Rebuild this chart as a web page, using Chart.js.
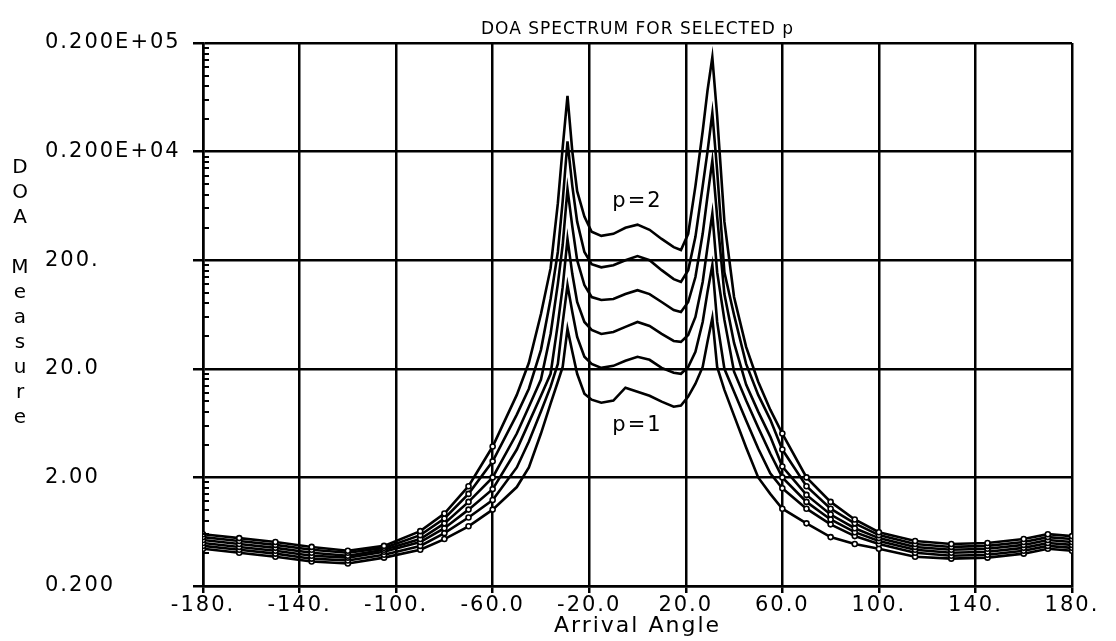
<!DOCTYPE html>
<html>
<head>
<meta charset="utf-8">
<title>DOA spectrum</title>
<script src="https://cdn.jsdelivr.net/npm/chart.js@4.4.0/dist/chart.umd.min.js"></script>
<style>
  html, body { margin: 0; padding: 0; background: #fff; }
  #wrap { width: 1116px; height: 641px; }
</style>
</head>
<body>
<div id="wrap"><canvas id="doaChart" width="1116" height="641"></canvas></div>
<script>
// arrival angles (deg), shared by all six curves
const angles = [-180,-165,-150,-135,-120,-105,-90,-80,-70,-60,-50,-45,-40,-36,-33,-31,-29,-27,-25,-22,-19,-15,-10,-5,0,5,10,15,18,21,24,27,29,31,33,36,40,45,50,55,60,70,80,90,100,115,130,145,160,170,180];

// DOA measure, top curve (p=2 label) down to bottom curve (p=1 label)
const curve6 = [0.600,0.552,0.508,0.458,0.422,0.468,0.640,0.93,1.66,3.85,11.5,22.7,64.0,169,667,2180,6530,2000,865,505,366,335,350,398,425,381,314,264,248,350,962,3080,7280,14800,4250,453,91.6,31.8,15.2,8.41,5.07,2.0,1.19,0.82,0.626,0.519,0.488,0.498,0.541,0.600,0.576];
const curve5 = [0.564,0.519,0.478,0.431,0.405,0.449,0.588,0.837,1.41,2.81,7.57,13.1,29.9,87.8,238,697,2480,962,453,238,184,172,180,200,218,200,162,134,126,162,328,962,2000,4530,1330,155,62.6,22.2,11.5,6.81,3.61,1.66,1.03,0.755,0.588,0.488,0.458,0.468,0.508,0.564,0.541];
const curve4 = [0.530,0.488,0.449,0.405,0.380,0.431,0.541,0.755,1.19,2.0,5.07,8.96,15.9,41.9,121,276,902,407,200,118,91.6,86.0,87.8,97.5,106,97.5,82.4,69.5,66.7,82.4,140,350,776,1650,505,97.5,34.6,14.3,8.07,4.75,2.52,1.38,0.91,0.681,0.552,0.458,0.431,0.440,0.478,0.530,0.508];
const curve3 = [0.498,0.458,0.422,0.380,0.365,0.413,0.508,0.681,1.01,1.56,3.61,6.39,11.3,18.0,51.8,113,314,149,82.4,54.0,45.6,41.9,43.7,48.6,54.0,49.6,41.9,36.1,35.4,41.0,60.0,126,264,538,155,56.4,18.8,10.2,5.75,3.32,2.0,1.19,0.82,0.626,0.519,0.431,0.405,0.413,0.449,0.498,0.478];
const curve2 = [0.468,0.431,0.397,0.357,0.343,0.388,0.468,0.613,0.855,1.24,2.47,4.28,8.07,13.7,22.2,52.9,118,66.7,39.3,25.8,22.2,20.4,21.3,23.7,25.8,24.2,20.4,18.4,18.0,20.8,28.7,54.0,102,180,54.0,20.0,12.3,6.67,3.69,2.18,1.59,1.03,0.739,0.576,0.488,0.405,0.380,0.388,0.422,0.468,0.449];
const curve1 = [0.440,0.405,0.372,0.336,0.322,0.365,0.431,0.541,0.709,1.01,1.63,2.47,5.07,9.55,15.2,20.8,46.6,28.7,18.0,11.8,10.4,9.75,10.2,13.4,12.3,11.3,9.96,8.96,9.16,11.1,14.6,20.8,35.4,58.8,20.8,12.8,7.41,3.77,2.0,1.41,1.03,0.755,0.564,0.488,0.440,0.372,0.357,0.365,0.397,0.440,0.422];

const xTicks = [-180,-140,-100,-60,-20,20,60,100,140,180];
const xTickLabels = ['-180.','-140.','-100.','-60.0','-20.0','20.0','60.0','100.','140.','180.'];
const yTicks = [0.2,2,20,200,2000,20000];
const yTickLabels = ['0.200','2.00','20.0','200.','0.200E+04','0.200E+05'];
const minorFactors = [2,3,4,5,6,7,8,9];

const titleText = 'DOA SPECTRUM FOR SELECTED p';
const yTitle = 'DOA Measure';
const curveLabels = [{ text: 'p=2', x: 0, y: 700 }, { text: 'p=1', x: 0, y: 6 }];

const FONT = 'DejaVu Sans';
const series = [curve6, curve5, curve4, curve3, curve2, curve1];

const decorations = {
  id: 'decorations',
  beforeDraw(chart) { chart.ctx.letterSpacing = '2px'; },
  afterDraw(chart) {
    const { ctx, chartArea, scales: { x, y } } = chart;
    ctx.save();
    // minor log ticks inside the left axis
    ctx.strokeStyle = '#000';
    ctx.lineWidth = 2;
    yTicks.slice(0, -1).forEach(base => {
      minorFactors.forEach(f => {
        const py = Math.round(y.getPixelForValue(base * f));
        ctx.beginPath();
        ctx.moveTo(chartArea.left, py);
        ctx.lineTo(chartArea.left + 6, py);
        ctx.stroke();
      });
    });
    ctx.fillStyle = '#000';
    ctx.textAlign = 'center';
    ctx.textBaseline = 'middle';
    ctx.letterSpacing = '1px';
    ctx.font = '17px "' + FONT + '"';
    ctx.fillText(titleText, (chartArea.left + chartArea.right) / 2, 30);
    // stacked y-axis title
    ctx.letterSpacing = '0px';
    ctx.font = '20px "' + FONT + '"';
    [...yTitle].forEach((ch, i) => ctx.fillText(ch, 20, 168 + i * 25));
    // curve labels
    ctx.letterSpacing = '2px';
    ctx.font = '21px "' + FONT + '"';
    curveLabels.forEach(l => ctx.fillText(l.text, x.getPixelForValue(l.x), y.getPixelForValue(l.y)));
    ctx.restore();
    ctx.letterSpacing = '0px';
  }
};

new Chart(document.getElementById('doaChart'), {
  type: 'line',
  data: {
    datasets: series.map((vals, k) => ({
      label: 'curve ' + (6 - k),
      data: angles.map((a, i) => ({ x: a, y: vals[i] })),
      borderColor: '#000',
      borderWidth: 2.6,
      pointRadius: c => Math.abs(angles[c.dataIndex]) >= 60 ? 2.5 : 0,
      pointBackgroundColor: '#fff',
      pointBorderColor: '#000',
      pointBorderWidth: 1.6,
      tension: 0,
      fill: false
    }))
  },
  options: {
    responsive: false,
    animation: false,
    devicePixelRatio: 1,
    events: [],
    layout: { padding: { left: 45, top: 43, right: 44, bottom: 0 } },
    plugins: { legend: { display: false }, tooltip: { enabled: false }, title: { display: false } },
    scales: {
      x: {
        type: 'linear',
        min: -180,
        max: 180,
        afterBuildTicks: s => { s.ticks = xTicks.map(v => ({ value: v })); },
        afterFit: s => { s.height = 55; },
        ticks: {
          autoSkip: false, maxRotation: 0, color: '#000', padding: 0,
          font: { family: FONT, size: 21 },
          callback: (v, i) => xTickLabels[i]
        },
        grid: { color: '#000', lineWidth: 2.5, tickLength: 7 },
        border: { color: '#000', width: 2.5 },
        title: {
          display: true, text: 'Arrival Angle', color: '#000',
          font: { family: FONT, size: 22 }, padding: { top: 0, bottom: 2 }
        }
      },
      y: {
        type: 'logarithmic',
        min: 0.2,
        max: 20000,
        afterBuildTicks: s => { s.ticks = yTicks.map(v => ({ value: v })); },
        afterFit: s => { s.width = 158; },
        ticks: {
          autoSkip: false, color: '#000', crossAlign: 'far',
          font: { family: FONT, size: 21 },
          callback: (v, i) => yTickLabels[i]
        },
        grid: { color: '#000', lineWidth: 2.5, tickLength: 10 },
        border: { color: '#000', width: 2.5 }
      }
    }
  },
  plugins: [decorations]
});
</script>
</body>
</html>
